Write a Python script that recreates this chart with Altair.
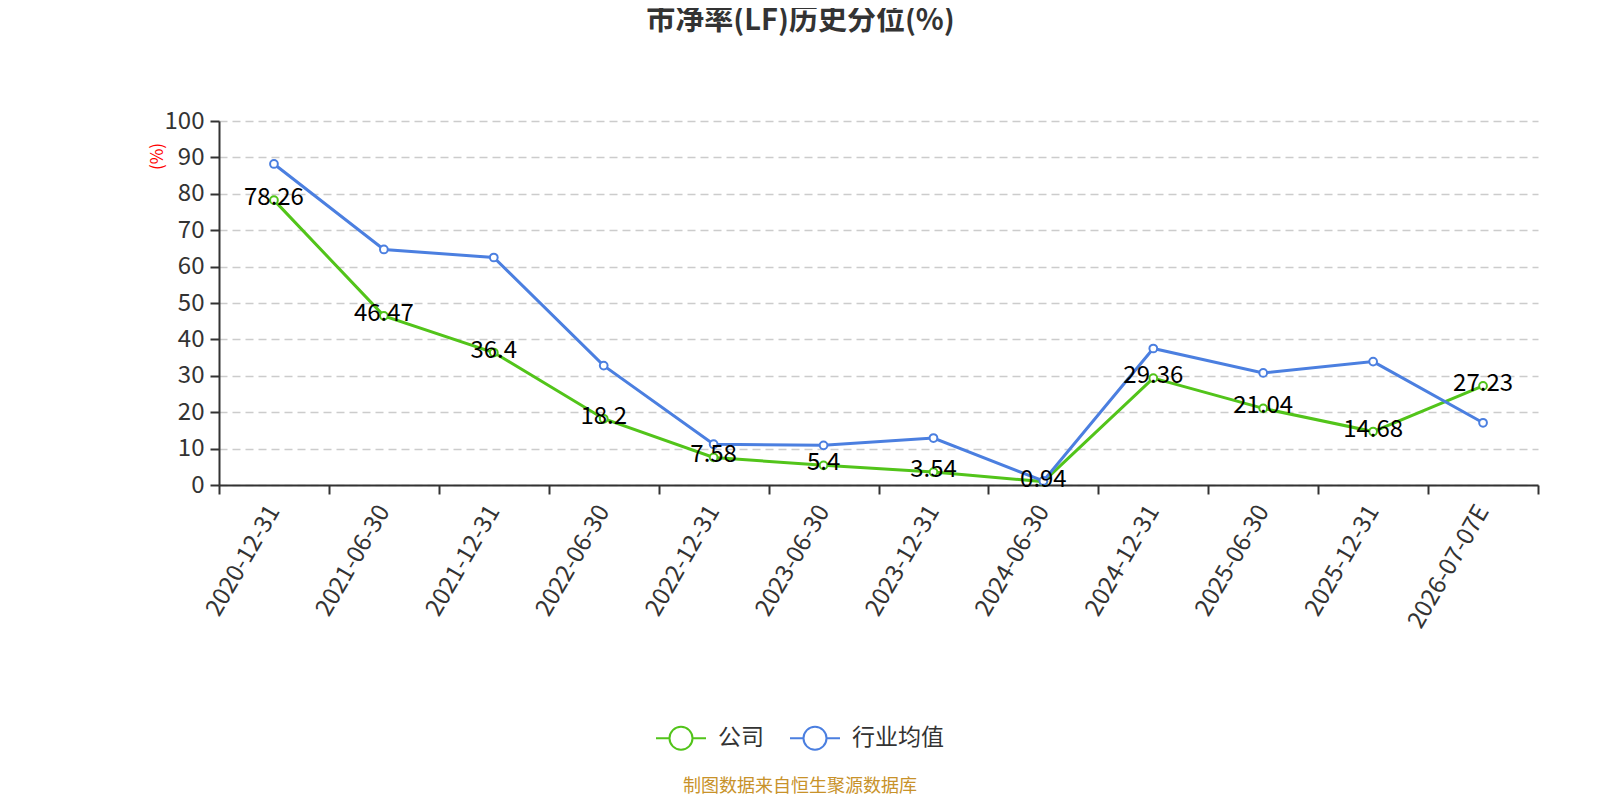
import altair as alt
import pandas as pd

dates = ["2020-12-31", "2021-06-30", "2021-12-31", "2022-06-30", "2022-12-31", "2023-06-30",
         "2023-12-31", "2024-06-30", "2024-12-31", "2025-06-30", "2025-12-31", "2026-07-07E"]
company = [78.26, 46.47, 36.4, 18.2, 7.58, 5.4, 3.54, 0.94, 29.36, 21.04, 14.68, 27.23]
industry = [88.2, 64.7, 62.5, 32.8, 11.2, 10.9, 12.9, 1.1, 37.5, 30.8, 33.9, 17.1]
series_names = ["公司", "行业均值"]
series_colors = ["#52c41a", "#4b7fe0"]
y_ticks = list(range(0, 101, 10))

rows = []
for i, d in enumerate(dates):
    rows.append({"idx": i, "date": d, "series": series_names[0], "value": company[i], "order": 0})
for i, d in enumerate(dates):
    rows.append({"idx": i, "date": d, "series": series_names[1], "value": industry[i], "order": 1})
df = pd.DataFrame(rows)

FONT = "Noto Sans CJK SC"
W, H = 1319, 364
n = len(dates)
xscale = alt.Scale(domain=[-0.5, n - 0.5], nice=False, zero=False)
yscale = alt.Scale(domain=[0, 100], nice=False)

y_axis = alt.Axis(values=y_ticks, grid=True, gridDash=[8, 5], gridColor="#cccccc",
                  gridWidth=1.5, domainColor="#333333", domainWidth=2,
                  tickColor="#333333", tickSize=9, tickWidth=2,
                  labelFontSize=24, labelColor="#333333", labelFont=FONT, labelPadding=6,
                  title="(%)", titleColor="#ff0000", titleFontSize=17,
                  titleFontWeight="normal", titleFont=FONT, titleAngle=-90,
                  titleX=-62, titleY=35, titleAlign="center", titleBaseline="middle")

color = alt.Color("series:N", scale=alt.Scale(domain=series_names, range=series_colors),
                  sort=series_names,
                  legend=alt.Legend(
                      title=None, orient="none", direction="horizontal",
                      legendX=436, legendY=591,
                      symbolType="M-1,0L-0.46,0A0.46,0.46,0,1,1,0.46,0A0.46,0.46,0,1,1,-0.46,0M0.46,0L1,0",
                      symbolSize=2500, symbolStrokeWidth=2, symbolFillColor="white",
                      labelFontSize=23, labelColor="#333333", labelFont=FONT,
                      labelOffset=11, columnPadding=22))

label_expr = "[" + ",".join("'%s'" % d for d in dates) + "][datum.value]"

base = alt.Chart(df)

lines = base.mark_line(strokeWidth=3).encode(
    x=alt.X("idx:Q", scale=xscale,
            axis=alt.Axis(values=[i - 0.5 for i in range(n + 1)], labels=False, grid=False,
                          tickSize=9, tickColor="#333333", domainColor="#333333",
                          domainWidth=2, tickWidth=2, title=None, orient="bottom")),
    y=alt.Y("value:Q", scale=yscale, axis=y_axis),
    color=color,
    order=alt.Order("order:Q"),
    detail="series:N",
)

points = base.mark_point(filled=False, fill="white", fillOpacity=1, size=60, strokeWidth=2,
                         opacity=1).encode(
    x=alt.X("idx:Q", scale=xscale,
            axis=alt.Axis(values=list(range(n)), labelExpr=label_expr, ticks=False, domain=False,
                          grid=False, labelAngle=-60, labelFontSize=24, labelColor="#333333",
                          labelFont=FONT, labelPadding=22, title=None, orient="bottom")),
    y=alt.Y("value:Q", scale=yscale, axis=y_axis),
    stroke=alt.Stroke("series:N", scale=alt.Scale(domain=series_names, range=series_colors),
                      legend=None),
    order=alt.Order("order:Q"),
)

labels = base.transform_filter(alt.datum.series == series_names[0]).mark_text(
    fontSize=24, font=FONT, color="#000000", dy=-2
).encode(
    x=alt.X("idx:Q", scale=xscale, axis=None),
    y=alt.Y("value:Q", scale=yscale, axis=y_axis),
    text=alt.Text("value:Q"),
)

footer = alt.Chart(pd.DataFrame({"t": ["制图数据来自恒生聚源数据库"]})).mark_text(
    fontSize=18, font=FONT, color="#c8922a", align="center", baseline="middle"
).encode(x=alt.value(581), y=alt.value(666), text="t:N")

chart = alt.layer(lines, points, labels, footer).resolve_axis(x="independent").resolve_scale(
    color="independent", stroke="independent"
).properties(
    width=W, height=H,
    title=alt.TitleParams("市净率(LF)历史分位(%)", fontSize=29, fontWeight="bold", font=FONT,
                          color="#333333", anchor="middle", dx=-78, offset=73),
    autosize=alt.AutoSizeParams(type="none"),
    padding={"left": 211, "top": 113, "right": 40, "bottom": 315},
).configure_view(stroke=None)

chart.save("out.html", embed_options={"renderer": "svg", "actions": False})
